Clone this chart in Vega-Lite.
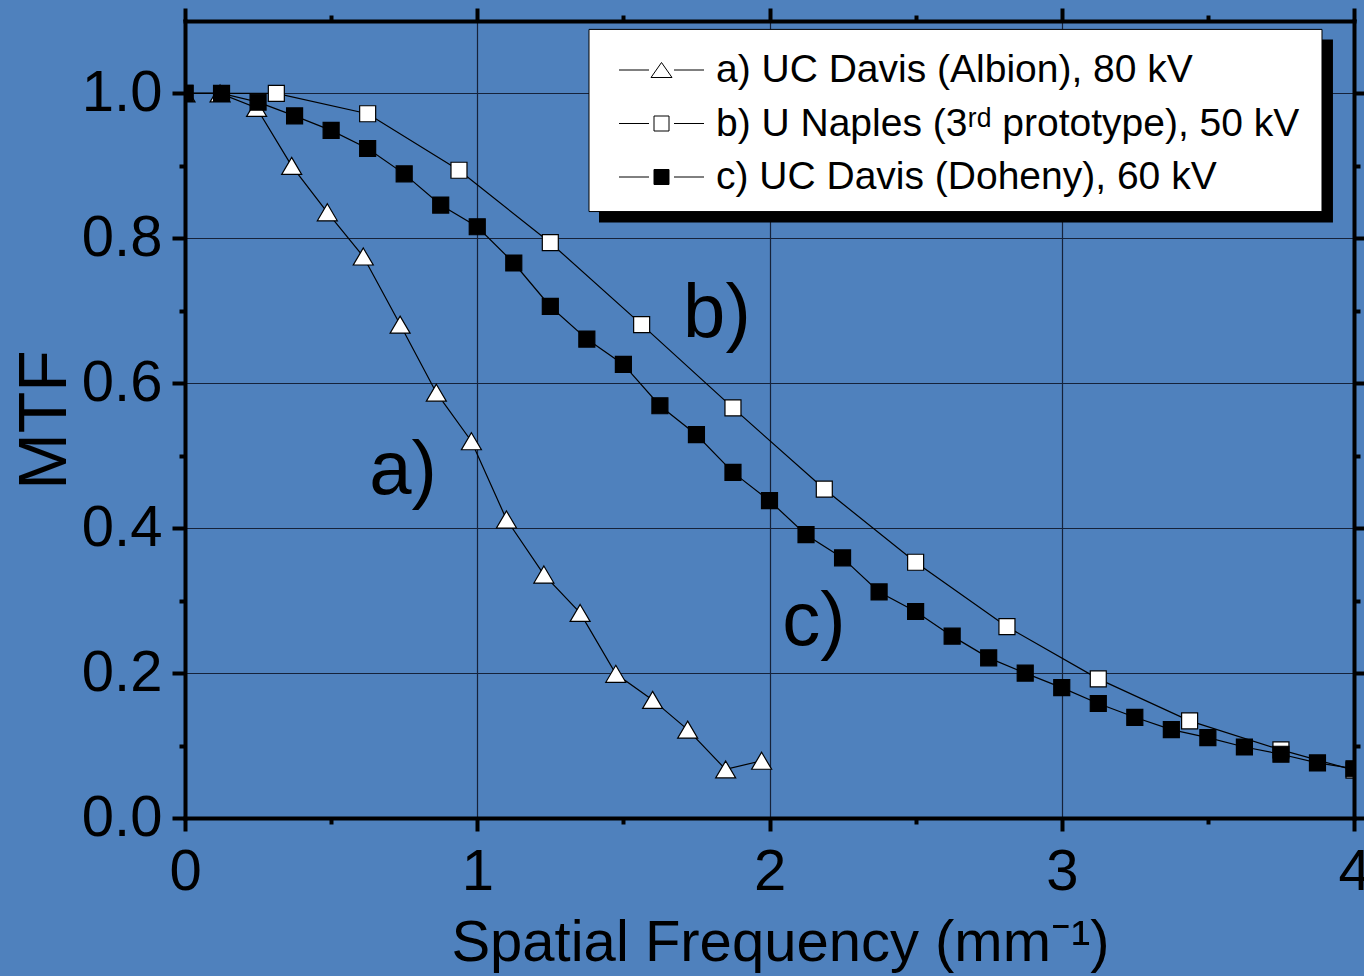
{
  "$schema": "https://vega.github.io/schema/vega-lite/v6.json",
  "width": 1169,
  "height": 797,
  "autosize": {"type": "none"},
  "padding": {"left": 185, "top": 21, "right": 10, "bottom": 158},
  "background": "#4F81BD",
  "config": {"view": {"stroke": null}, "font": "Liberation Sans"},
  "datasets": {
    "curves": [
      {"s": "a", "f": 0, "m": 1.0},
      {"s": "a", "f": 0.12, "m": 1.0},
      {"s": "a", "f": 0.245, "m": 0.98},
      {"s": "a", "f": 0.365, "m": 0.9},
      {"s": "a", "f": 0.487, "m": 0.836},
      {"s": "a", "f": 0.61, "m": 0.775},
      {"s": "a", "f": 0.736, "m": 0.681},
      {"s": "a", "f": 0.86, "m": 0.587},
      {"s": "a", "f": 0.98, "m": 0.52},
      {"s": "a", "f": 1.1, "m": 0.412},
      {"s": "a", "f": 1.228, "m": 0.336},
      {"s": "a", "f": 1.352, "m": 0.283},
      {"s": "a", "f": 1.474, "m": 0.199},
      {"s": "a", "f": 1.6, "m": 0.163},
      {"s": "a", "f": 1.72, "m": 0.122},
      {"s": "a", "f": 1.85, "m": 0.067},
      {"s": "a", "f": 1.973, "m": 0.079},
      {"s": "b", "f": 0, "m": 1.0},
      {"s": "b", "f": 0.3125, "m": 1.0},
      {"s": "b", "f": 0.625, "m": 0.972},
      {"s": "b", "f": 0.9375, "m": 0.894},
      {"s": "b", "f": 1.25, "m": 0.794},
      {"s": "b", "f": 1.5625, "m": 0.681},
      {"s": "b", "f": 1.875, "m": 0.566},
      {"s": "b", "f": 2.1875, "m": 0.454},
      {"s": "b", "f": 2.5, "m": 0.353},
      {"s": "b", "f": 2.8125, "m": 0.264},
      {"s": "b", "f": 3.125, "m": 0.192},
      {"s": "b", "f": 3.4375, "m": 0.134},
      {"s": "b", "f": 3.75, "m": 0.094},
      {"s": "b", "f": 4.0, "m": 0.066},
      {"s": "c", "f": 0, "m": 1.0},
      {"s": "c", "f": 0.125, "m": 1.0},
      {"s": "c", "f": 0.25, "m": 0.988},
      {"s": "c", "f": 0.375, "m": 0.969},
      {"s": "c", "f": 0.5, "m": 0.949},
      {"s": "c", "f": 0.625, "m": 0.924},
      {"s": "c", "f": 0.75, "m": 0.889},
      {"s": "c", "f": 0.875, "m": 0.846},
      {"s": "c", "f": 1.0, "m": 0.816},
      {"s": "c", "f": 1.125, "m": 0.766},
      {"s": "c", "f": 1.25, "m": 0.706},
      {"s": "c", "f": 1.375, "m": 0.661},
      {"s": "c", "f": 1.5, "m": 0.626},
      {"s": "c", "f": 1.625, "m": 0.569},
      {"s": "c", "f": 1.75, "m": 0.529},
      {"s": "c", "f": 1.875, "m": 0.477},
      {"s": "c", "f": 2.0, "m": 0.438},
      {"s": "c", "f": 2.125, "m": 0.391},
      {"s": "c", "f": 2.25, "m": 0.359},
      {"s": "c", "f": 2.375, "m": 0.312},
      {"s": "c", "f": 2.5, "m": 0.285},
      {"s": "c", "f": 2.625, "m": 0.251},
      {"s": "c", "f": 2.75, "m": 0.221},
      {"s": "c", "f": 2.875, "m": 0.2},
      {"s": "c", "f": 3.0, "m": 0.18},
      {"s": "c", "f": 3.125, "m": 0.158},
      {"s": "c", "f": 3.25, "m": 0.139},
      {"s": "c", "f": 3.375, "m": 0.122},
      {"s": "c", "f": 3.5, "m": 0.111},
      {"s": "c", "f": 3.625, "m": 0.098},
      {"s": "c", "f": 3.75, "m": 0.088},
      {"s": "c", "f": 3.875, "m": 0.076},
      {"s": "c", "f": 4.0, "m": 0.068}
    ],
    "notes": [
      {"t": "a)", "f": 0.746, "m": 0.4475},
      {"t": "b)", "f": 1.82, "m": 0.664},
      {"t": "c)", "f": 2.152, "m": 0.239}
    ]
  },
  "layer": [
    {
      "data": {"name": "curves"},
      "mark": {"type": "line", "color": "black", "strokeWidth": 1.2, "clip": true},
      "encoding": {
        "x": {
          "field": "f", "type": "quantitative",
          "scale": {"domain": [0, 4], "nice": false, "zero": false},
          "axis": {
            "orient": "bottom", "zindex": 0,
            "values": [0, 0.5, 1, 1.5, 2, 2.5, 3, 3.5, 4],
            "labelExpr": "datum.value % 1 === 0 ? format(datum.value, 'd') : ''",
            "tickSize": {"condition": {"test": "datum.value % 1 !== 0", "value": 6}, "value": 13},
            "tickWidth": 4, "tickColor": "black",
            "domainColor": "black", "domainWidth": 4, "domainCap": "square",
            "grid": true, "gridColor": "#15223a", "gridWidth": 1.2,
            "gridOpacity": {"condition": {"test": "datum.value % 1 !== 0", "value": 0}, "value": 1},
            "labelFontSize": 58, "labelColor": "black", "labelPadding": 12,
            "labelFlush": false, "labelOverlap": false,
            "title": "Spatial Frequency (mm⁻¹)", "titleFontSize": 58, "titleFontWeight": "normal",
            "titleColor": "black", "titleX": 595, "titleY": 142, "titleBaseline": "alphabetic", "titleAlign": "center"
          }
        },
        "y": {
          "field": "m", "type": "quantitative",
          "scale": {"domain": [0, 1.1], "nice": false, "zero": false},
          "axis": {
            "orient": "left", "zindex": 0,
            "values": [0, 0.1, 0.2, 0.3, 0.4, 0.5, 0.6, 0.7, 0.8, 0.9, 1.0],
            "labelExpr": "round(datum.value * 10) % 2 === 0 ? format(datum.value, '.1f') : ''",
            "tickSize": {"condition": {"test": "round(datum.value * 10) % 2 !== 0", "value": 6}, "value": 13},
            "tickWidth": 4, "tickColor": "black",
            "domainColor": "black", "domainWidth": 4, "domainCap": "square",
            "grid": true, "gridColor": "#15223a", "gridWidth": 1.2,
            "gridOpacity": {"condition": {"test": "round(datum.value * 10) % 2 !== 0", "value": 0}, "value": 1},
            "labelFontSize": 58, "labelColor": "black", "labelPadding": 10,
            "labelFlush": false, "labelOverlap": false,
            "title": "MTF", "titleFontSize": 68, "titleFontWeight": "normal", "titleColor": "black",
            "titleX": -120, "titleY": 398.5, "titleAngle": 270, "titleBaseline": "alphabetic", "titleAlign": "center"
          }
        },
        "detail": {"field": "s"}
      }
    },
    {
      "data": {"name": "curves"},
      "transform": [{"filter": "datum.s === 'a'"}],
      "mark": {"type": "point", "shape": "M0,-0.85L1,0.85H-1Z", "filled": true, "fill": "white", "stroke": "black", "strokeWidth": 1.2, "size": 400, "opacity": 1, "clip": true},
      "encoding": {
        "x": {
          "field": "f", "type": "quantitative",
          "scale": {"domain": [0, 4], "nice": false, "zero": false},
          "axis": {
            "orient": "top", "zindex": 1, "labels": false, "title": null, "grid": false,
            "values": [0, 0.5, 1, 1.5, 2, 2.5, 3, 3.5, 4],
            "tickSize": {"condition": {"test": "datum.value % 1 !== 0", "value": 6}, "value": 13},
            "tickWidth": 4, "tickColor": "black",
            "domainColor": "black", "domainWidth": 4, "domainCap": "square"
          }
        },
        "y": {
          "field": "m", "type": "quantitative",
          "scale": {"domain": [0, 1.1], "nice": false, "zero": false},
          "axis": {
            "orient": "right", "zindex": 1, "labels": false, "title": null, "grid": false,
            "values": [0, 0.1, 0.2, 0.3, 0.4, 0.5, 0.6, 0.7, 0.8, 0.9, 1.0],
            "tickSize": {"condition": {"test": "round(datum.value * 10) % 2 !== 0", "value": 6}, "value": 13},
            "tickWidth": 4, "tickColor": "black",
            "domainColor": "black", "domainWidth": 4, "domainCap": "square"
          }
        }
      }
    },
    {
      "data": {"name": "curves"},
      "transform": [{"filter": "datum.s === 'b'"}],
      "mark": {"type": "point", "shape": "M-0.8,-0.8H0.8V0.8H-0.8Z", "filled": true, "fill": "white", "stroke": "black", "strokeWidth": 1.2, "size": 400, "opacity": 1, "clip": true},
      "encoding": {
        "x": {"field": "f", "type": "quantitative", "scale": {"domain": [0, 4], "nice": false, "zero": false}, "axis": null},
        "y": {"field": "m", "type": "quantitative", "scale": {"domain": [0, 1.1], "nice": false, "zero": false}, "axis": null}
      }
    },
    {
      "data": {"name": "curves"},
      "transform": [{"filter": "datum.s === 'c'"}],
      "mark": {"type": "point", "shape": "M-0.8,-0.8H0.8V0.8H-0.8Z", "filled": true, "fill": "black", "stroke": "black", "strokeWidth": 1.2, "size": 400, "opacity": 1, "clip": true},
      "encoding": {
        "x": {"field": "f", "type": "quantitative", "scale": {"domain": [0, 4], "nice": false, "zero": false}, "axis": null},
        "y": {"field": "m", "type": "quantitative", "scale": {"domain": [0, 1.1], "nice": false, "zero": false}, "axis": null}
      }
    },
    {
      "data": {"name": "notes"},
      "mark": {"type": "text", "fontSize": 76, "align": "center", "baseline": "alphabetic", "color": "black"},
      "encoding": {
        "x": {"field": "f", "type": "quantitative", "scale": {"domain": [0, 4], "nice": false, "zero": false}, "axis": null},
        "y": {"field": "m", "type": "quantitative", "scale": {"domain": [0, 1.1], "nice": false, "zero": false}, "axis": null},
        "text": {"field": "t"}
      }
    },
    {
      "data": {"values": [{}]},
      "mark": {"type": "rect", "color": "black"},
      "encoding": {
        "x": {"datum": 1.4166, "type": "quantitative", "scale": {"domain": [0, 4], "nice": false, "zero": false}, "axis": null},
        "x2": {"datum": 3.928},
        "y": {"datum": 1.0746, "type": "quantitative", "scale": {"domain": [0, 1.1], "nice": false, "zero": false}, "axis": null},
        "y2": {"datum": 0.8218}
      }
    },
    {
      "data": {"values": [{}]},
      "mark": {"type": "rect", "fill": "white", "stroke": "black", "strokeWidth": 1},
      "encoding": {
        "x": {"datum": 1.3824, "type": "quantitative", "scale": {"domain": [0, 4], "nice": false, "zero": false}, "axis": null},
        "x2": {"datum": 3.8905},
        "y": {"datum": 1.0884, "type": "quantitative", "scale": {"domain": [0, 1.1], "nice": false, "zero": false}, "axis": null},
        "y2": {"datum": 0.837}
      }
    },
    {
      "data": {"name": "curves"},
      "mark": {"type": "point", "filled": false, "stroke": "black", "strokeWidth": 1, "size": 400, "opacity": 0},
      "encoding": {
        "x": {"field": "f", "type": "quantitative", "scale": {"domain": [0, 4], "nice": false, "zero": false}, "axis": null},
        "y": {"field": "m", "type": "quantitative", "scale": {"domain": [0, 1.1], "nice": false, "zero": false}, "axis": null},
        "shape": {
          "field": "s", "type": "nominal",
          "scale": {
            "domain": ["a", "b", "c"],
            "range": [
              "M-4.25,0H-1.25M1.25,0H4.25M0,-0.75L1.05,0.75H-1.05Z",
              "M-4.25,0H-1.25M1.25,0H4.25M-0.75,-0.75H0.75V0.75H-0.75Z",
              "M-4.25,0H-1.25M1.25,0H4.25M-0.75,-0.75H0.75V0.75H-0.75ZM-0.75,-0.65H0.75M-0.75,-0.55H0.75M-0.75,-0.45H0.75M-0.75,-0.35H0.75M-0.75,-0.25H0.75M-0.75,-0.15H0.75M-0.75,-0.05H0.75M-0.75,0.05H0.75M-0.75,0.15H0.75M-0.75,0.25H0.75M-0.75,0.35H0.75M-0.75,0.45H0.75M-0.75,0.55H0.75M-0.75,0.65H0.75"
            ]
          },
          "legend": {
            "orient": "none", "legendX": 457, "legendY": 29.5, "title": null, "padding": 0,
            "rowPadding": 13.5, "labelFontSize": 39, "labelColor": "black", "labelOffset": 35,
            "labelLimit": 900, "symbolSize": 400, "symbolOpacity": 1,
            "symbolStrokeColor": "black", "symbolStrokeWidth": 1,
            "labelExpr": "datum.value === 'a' ? 'a) UC Davis (Albion), 80 kV' : datum.value === 'b' ? 'b) U Naples (3ʳᵈ prototype), 50 kV' : 'c) UC Davis (Doheny), 60 kV'"
          }
        }
      }
    }
  ],
  "resolve": {"axis": {"x": "independent", "y": "independent"}}
}
